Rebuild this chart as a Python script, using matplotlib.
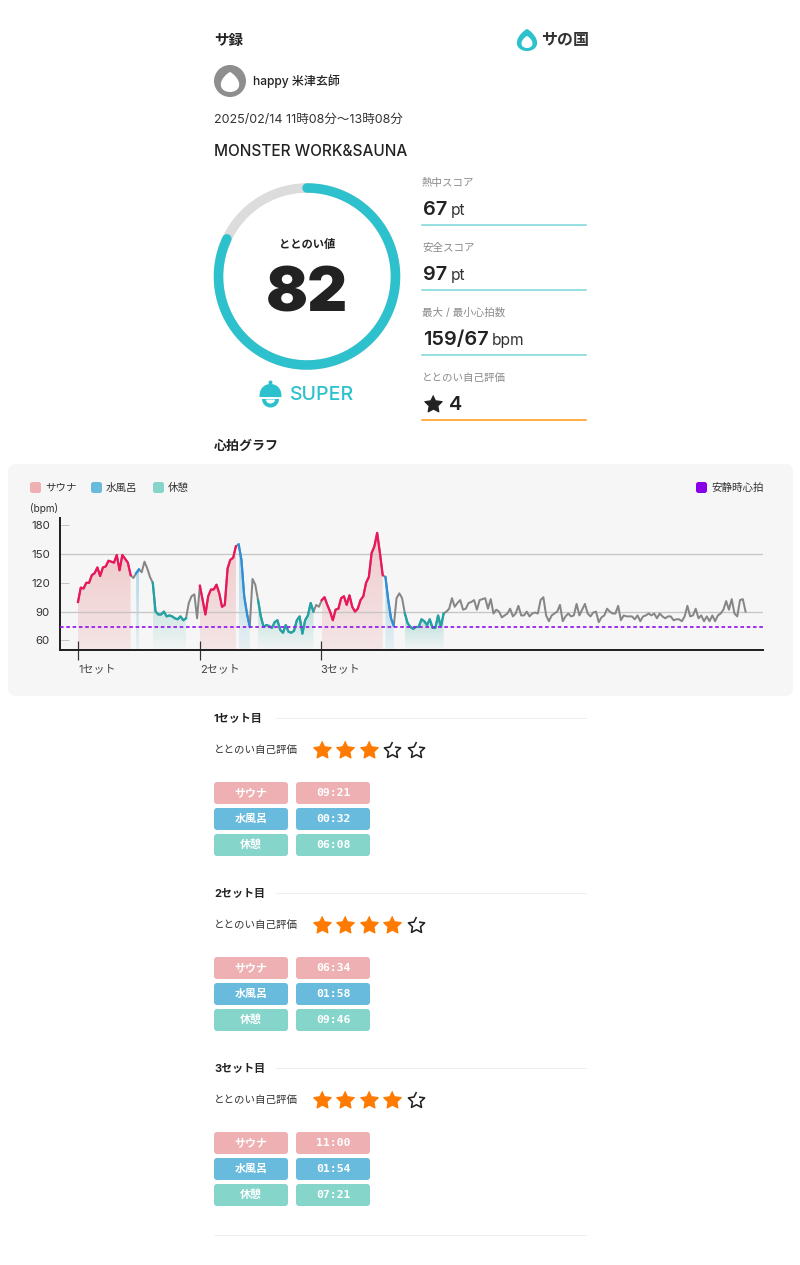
import numpy as np
import matplotlib
matplotlib.use('Agg')
import matplotlib.pyplot as plt
from matplotlib.patches import FancyBboxPatch, Circle, Polygon

plt.rcParams['font.family'] = ['Inter', 'Noto Sans CJK JP', 'DejaVu Sans']

# heart rate, one reading every 30 s
hr = [100, 115, 114, 120, 120, 128, 130, 136, 127, 136, 137, 143, 142, 141, 149, 133, 149, 145, 141, 128,
      125, 130, 134, 131, 142, 135, 126, 120, 90, 87, 87, 90, 85, 86, 85, 83, 82, 85, 81, 83,
      99, 106, 108, 83, 117, 102, 87, 106, 113, 113, 118, 109, 95, 97, 135, 144, 146, 158, 160, 144,
      106, 88, 74, 124, 118, 102, 85, 74, 76, 75, 73, 79, 81, 71, 68, 76, 69, 68, 70, 81,
      85, 67, 81, 86, 99, 90, 97, 95, 102, 105, 97, 90, 81, 92, 93, 104, 106, 97, 107, 95,
      90, 93, 102, 106, 120, 126, 151, 158, 172, 151, 128, 126, 102, 83, 75, 104, 109, 104, 88, 78,
      74, 72, 74, 74, 82, 80, 76, 82, 73, 73, 86, 74, 88, 90, 93, 104, 95, 99, 102, 92,
      93, 99, 100, 102, 92, 102, 103, 104, 93, 103, 88, 92, 90, 84, 86, 88, 93, 85, 88, 96,
      86, 86, 90, 85, 88, 89, 88, 102, 105, 86, 80, 86, 88, 90, 97, 80, 85, 88, 85, 86,
      98, 86, 92, 98, 88, 85, 89, 90, 79, 84, 86, 93, 90, 88, 88, 96, 81, 86, 85, 85,
      85, 82, 86, 80, 85, 86, 88, 86, 88, 83, 88, 85, 83, 85, 85, 81, 82, 82, 80, 85,
      96, 85, 86, 93, 83, 86, 80, 85, 80, 86, 80, 86, 88, 92, 101, 92, 103, 88, 85, 102,
      103, 90]
minutes = np.arange(len(hr)) * 0.5

# phase start / end in minutes
sauna_phases = [(0, 9.5), (22, 28.5), (44, 55)]
water_phases = [(10.5, 11), (29, 31), (55.5, 57)]
rest_phases = [(13.5, 19.5), (32.5, 42.5), (59, 66)]

y_ticks = [60, 90, 120, 150, 180]
guide_lines = [90, 150]
resting_hr = 74
set_starts = [0, 22, 43.8]
set_labels = ['1セット', '2セット', '3セット']

stat_labels = ['熱中スコア', '安全スコア', '最大 / 最小心拍数', 'ととのい自己評価']
stat_values = ['67', '97', '159/67', '4']
stat_units = ['pt', 'pt', 'bpm', '']

score = 82
set_titles = ['1セット目', '2セット目', '3セット目']
set_stars = [3, 4, 4]
phase_names = ['サウナ', '水風呂', '休憩']
set_times = [['09:21', '00:32', '06:08'],
             ['06:34', '01:58', '09:46'],
             ['11:00', '01:54', '07:21']]

PINK = '#eeb0b2'
BLUE = '#68bbdd'
GREEN = '#85d5cb'
TEAL = '#2cc1cc'
DARK = '#222222'

# fat five point star used as a marker
ang = np.pi / 2 + np.arange(10) * np.pi / 5
rad = np.where(np.arange(10) % 2 == 0, 1.0, 0.5)
STAR = list(zip(rad * np.cos(ang), rad * np.sin(ang)))


def fs(px):
    return px * 0.72


fig = plt.figure(figsize=(8, 12.65), dpi=100)
page = fig.add_axes([0, 0, 1, 1])
page.set_xlim(0, 800)
page.set_ylim(1265, 0)
page.axis('off')


def label(x, y, s, px, color=DARK, weight='normal', ha='left', **kw):
    page.text(x, y + 1, s, fontsize=fs(px), color=color, fontweight=weight, ha=ha, va='center', **kw)


def rbox(x, y, w, h, color, r=3, zorder=1):
    page.add_patch(FancyBboxPatch((x, y), w, h, boxstyle=f'round,pad=0,rounding_size={r}',
                                  fc=color, ec='none', zorder=zorder))


def drop(cx, cy, r, color, zorder=3):
    t = np.linspace(0, 2 * np.pi, 80)
    page.add_patch(Polygon(np.c_[cx + 1.12 * r * np.sin(t) * np.sin(t / 2) ** 0.7, cy - r * np.cos(t)],
                           fc=color, ec='none', zorder=zorder))


# header
label(214, 40, 'サ録', 14.5, weight='bold')
drop(527, 40, 11, TEAL)
drop(527, 42, 6, 'white', zorder=4)
label(541, 39.5, 'サの国', 16, weight='bold', color='#333333')
page.add_patch(Circle((230, 81), 16, fc='#8e8e8e', ec='none'))
drop(230, 82, 10, 'white')
label(253, 80, 'happy 米津玄師', 12, weight='medium')
label(214, 119, '2025/02/14 11時08分〜13時08分', 12.5, color='#333333')
label(214, 151, 'MONSTER WORK&SAUNA', 15.4, weight='medium')

# gauge
gx, gy, gr = 307, 276.5, 88.5
a = np.radians(np.linspace(0, 360, 200))
page.plot(gx + gr * np.sin(a), gy - gr * np.cos(a), color='#dcdcdc', lw=fs(9.5))
a = np.radians(np.linspace(0, 360 * score / 100, 200))
page.plot(gx + gr * np.sin(a), gy - gr * np.cos(a), color=TEAL, lw=fs(9.5), solid_capstyle='round')
label(307, 243, 'ととのい値', 11.3, weight='bold', ha='center')
label(307, 294, str(score), 62, weight='black', ha='center')

# SUPER badge
t = np.linspace(0, np.pi, 40)
page.add_patch(Polygon(np.c_[270.5 + 11 * np.cos(t), 397 - 13 * np.sin(t) ** 0.8], fc=TEAL, ec='none'))
page.add_patch(Circle((270.5, 382.5), 2, fc=TEAL, ec='none'))
page.add_patch(Polygon(np.c_[270.5 - 8.5 * np.cos(t), 399 + 8.5 * np.sin(t)], fc=TEAL, ec='none'))
page.add_patch(Polygon(np.c_[270.5 - 4.5 * np.cos(t), 399.5 + 4 * np.sin(t)], fc='white', ec='none', zorder=3))
label(290, 394, 'SUPER', 19.5, color=TEAL, weight='medium')

# stats
for i in range(4):
    y = 182 + 65 * i
    label(422, y, stat_labels[i], 10.5, color='#8a8a8a')
    if i < 3:
        label(423, y + 27, stat_values[i], 20, weight='semibold')
        ux = [451, 451, 492][i]
        label(ux, y + 27.5, stat_units[i], 15.5, color='#333333')
        page.plot([422, 586], [y + 43, y + 43], color='#7fd9dc', lw=fs(1.6))
    else:
        page.scatter([433], [y + 27], marker=STAR, s=170, color=DARK, edgecolors=DARK, linewidths=fs(1.2))
        label(449, y + 27, stat_values[i], 20, weight='semibold')
        page.plot([422, 586], [y + 43, y + 43], color='#ff9a1f', lw=fs(1.6))

# graph panel
label(214, 446, '心拍グラフ', 13, weight='bold')
rbox(8, 464, 785, 232, '#f6f6f6', r=8, zorder=0)
for x, name, col in zip([30, 91, 153], phase_names, [PINK, BLUE, GREEN]):
    rbox(x, 482, 11, 11, col, r=2.5)
    label(x + 15, 487, name, 10.5, color='#333333')
rbox(696, 482, 11, 11, '#8a00e6', r=2.5)
label(711, 487, '安静時心拍', 10.5, color='#333333')
label(30, 507, '(bpm)', 10, color='#333333')

# heart rate chart, in its own axes
ax = fig.add_axes([60 / 800, 1 - 650 / 1265, 703 / 800, 132 / 1265])
ax.patch.set_alpha(0)
hr_arr = np.array(hr, dtype=float)
ymin, ymax = 50, 187.5


def shade(start, end, rgb, top, bottom):
    m = (minutes >= start) & (minutes <= end)
    xs, ys = minutes[m], hr_arr[m]
    poly = Polygon(np.r_[np.c_[xs, ys], [[xs[-1], ymin], [xs[0], ymin]]], fc='none', ec='none')
    ax.add_patch(poly)
    grad = np.zeros((100, 1, 4))
    grad[..., :3] = rgb
    grad[..., 3] = np.linspace(top, bottom, 100)[:, None]
    im = ax.imshow(grad, extent=(start, end, ymin, ys.max()), aspect='auto', zorder=1)
    im.set_clip_path(poly)


for s, e in sauna_phases:
    shade(s, e, (0.90, 0.50, 0.52), 0.36, 0.14)
for s, e in water_phases:
    shade(s, e, (0.40, 0.72, 0.84), 0.50, 0.10)
for s, e in rest_phases:
    shade(s, e, (0.30, 0.72, 0.68), 0.40, 0.02)

for g in guide_lines:
    ax.axhline(g, color='#c6c6c6', lw=fs(1.3), zorder=2)

ax.plot(minutes, hr, color='#868686', lw=fs(2), zorder=3)


def overlay(phases, color, width):
    for s, e in phases:
        m = (minutes >= s) & (minutes <= e)
        ax.plot(minutes[m], hr_arr[m], color=color, lw=fs(width), zorder=4)


overlay(sauna_phases, '#f0145a', 2.2)
overlay(water_phases, '#2a8fdc', 2.2)
overlay(rest_phases, '#1fa3a6', 2.2)
ax.axhline(resting_hr, color='#9a1fee', lw=fs(1.8), ls=(0, (2.0, 1.5)), zorder=5)

ax.set_xlim((60 - 78) / 5.54, (763 - 78) / 5.54)
ax.set_ylim(ymin, ymax)
ax.set_yticks(y_ticks)
ax.set_xticks(set_starts)
ax.set_xticklabels(set_labels, ha='left')
ax.tick_params(axis='y', direction='in', length=fs(9), width=fs(1), color='#c6c6c6',
               labelsize=fs(11.5), labelcolor='#333333', pad=fs(10))
ax.tick_params(axis='x', direction='inout', length=fs(19), width=fs(1.2), color='#333333',
               labelsize=fs(11), labelcolor='#444444', pad=fs(5))
for side in ['top', 'right']:
    ax.spines[side].set_visible(False)
for side in ['left', 'bottom']:
    ax.spines[side].set_color('#222222')
    ax.spines[side].set_linewidth(fs(2))

# per set details
for n in range(3):
    y0 = 718 + 175 * n
    label(214, y0, set_titles[n], 11, weight='bold')
    page.plot([276, 586], [y0, y0], color='#efefef', lw=fs(1))
    label(214, y0 + 31, 'ととのい自己評価', 10.5, color='#333333')
    for k in range(5):
        sx = 322 + 23.4 * k
        if k < set_stars[n]:
            page.scatter([sx], [y0 + 32], marker=STAR, s=175, color='#ff7a00', edgecolors='#ff7a00',
                         linewidths=fs(1.2))
        else:
            page.scatter([sx], [y0 + 32], marker=STAR, s=150, facecolor='white', edgecolor=DARK,
                         linewidths=fs(1.6))
    for r, (name, col) in enumerate(zip(phase_names, [PINK, BLUE, GREEN])):
        by = y0 + 64 + 26 * r
        rbox(214, by, 74, 22, col)
        rbox(296, by, 74, 22, col)
        label(251, by + 10, name, 11, color='white', weight='bold', ha='center')
        page.text(333, by + 11, set_times[n][r], fontsize=fs(11.5), color='white', fontweight='bold',
                  ha='center', va='center', family='DejaVu Sans Mono')

page.plot([214, 586], [1235, 1235], color='#efefef', lw=fs(1))

fig.savefig('out.png', dpi=100, facecolor='white')
